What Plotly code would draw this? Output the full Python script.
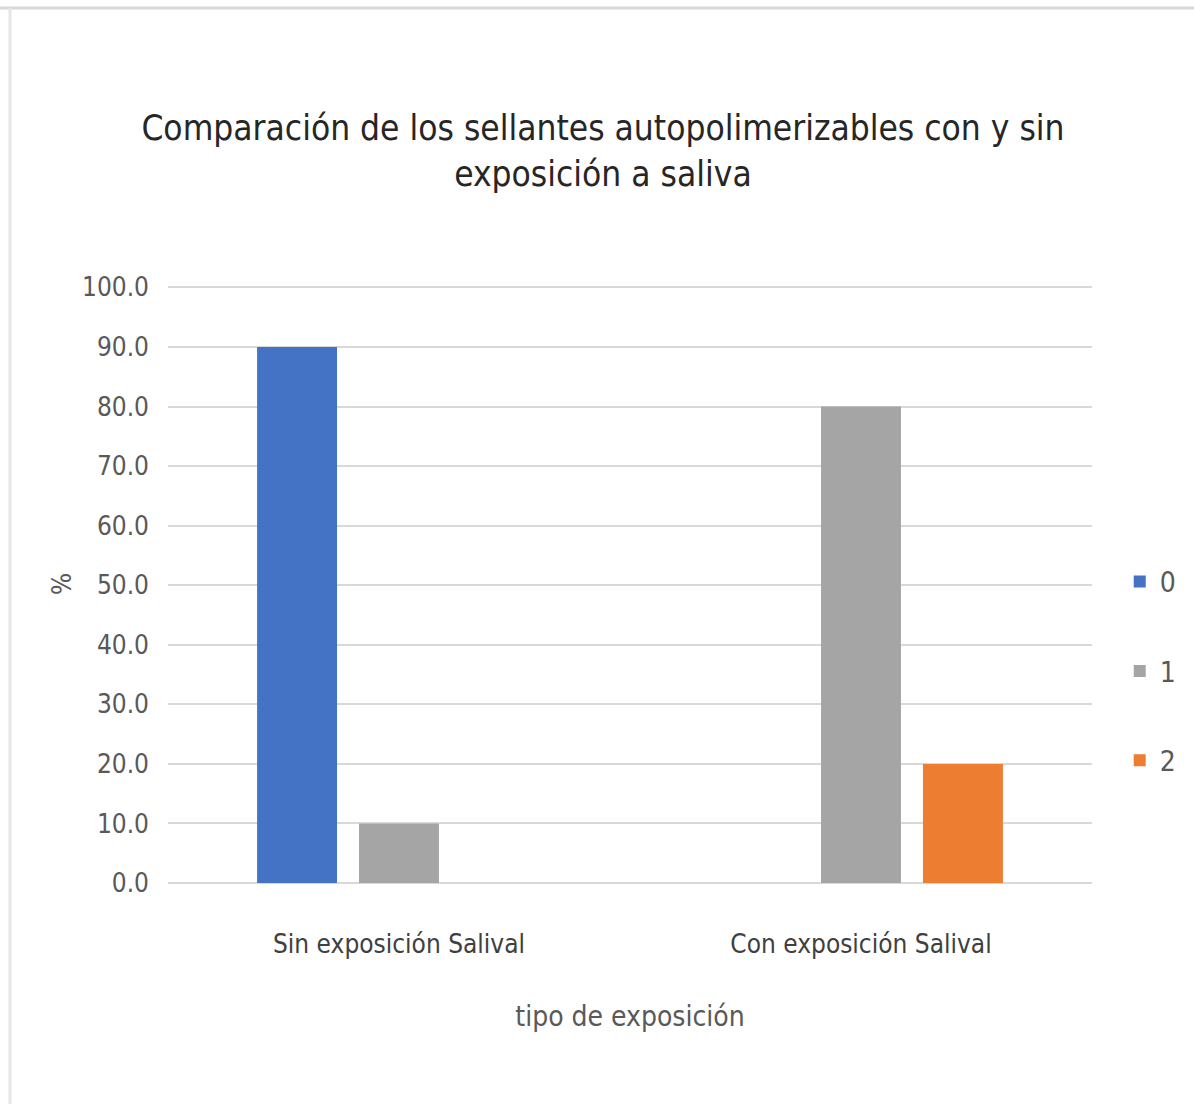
import plotly.graph_objects as go

categories = ["Sin exposición Salival", "Con exposición Salival"]
series_names = ["0", "1", "2"]
values_0 = [90.0, 0.0]
values_1 = [10.0, 80.0]
values_2 = [0.0, 20.0]
tick_vals = [0, 10, 20, 30, 40, 50, 60, 70, 80, 90, 100]

colors = ["#4472C4", "#A5A5A5", "#ED7D31"]
FONT = "DejaVu Sans Condensed, Liberation Sans Narrow, sans-serif"

fig = go.Figure()
for name, vals, col in zip(series_names, [values_0, values_1, values_2], colors):
    fig.add_trace(go.Bar(
        x=categories, y=vals, name=name, legendgroup=name,
        marker=dict(color=col, line=dict(width=0)),
    ))

T, B, L, R = 285, 221, 168, 102
PH = 1104 - T - B
PW = 1194 - L - R

fig.update_layout(
    width=1194, height=1104,
    paper_bgcolor="white", plot_bgcolor="white",
    margin=dict(l=L, r=R, t=T, b=B, autoexpand=False),
    barmode="group", bargap=0.338, bargroupgap=0.216,
    font=dict(family=FONT, color="#595959", size=26),
    title=dict(
        text="Comparación de los sellantes autopolimerizables con y sin<br>exposición a saliva",
        x=0.505, xanchor="center", y=1 - 140 / 1104, yanchor="middle",
        font=dict(family=FONT, size=35, color="#262626"),
    ),
    legend=dict(
        x=1.03, xanchor="left", y=0.354, yanchor="middle",
        font=dict(size=28, color="#595959"),
        tracegroupgap=50, bgcolor="rgba(0,0,0,0)",
    ),
    xaxis=dict(
        showgrid=False, showline=False, ticks="",
        ticklabelstandoff=43,
        tickfont=dict(size=26, color="#404040"),
        title=dict(text="tipo de exposición", font=dict(size=28, color="#595959"), standoff=48),
    ),
    yaxis=dict(
        range=[0, 100.4], tickvals=tick_vals, tickformat=".1f",
        showgrid=True, gridcolor="#D9D9D9", gridwidth=2,
        zeroline=True, zerolinecolor="#D9D9D9", zerolinewidth=2,
        showline=False, ticks="", ticklabelstandoff=18,
        tickfont=dict(size=26, color="#595959"),
        title=dict(text="%", font=dict(size=26, color="#595959"), standoff=2),
    ),
    shapes=[
        dict(type="line", xref="paper", yref="paper",
             x0=-L / PW, x1=(1194 - L) / PW, y0=1 + (T - 8) / PH, y1=1 + (T - 8) / PH,
             line=dict(color="#D9D9D9", width=3)),
        dict(type="line", xref="paper", yref="paper",
             x0=-(L - 10) / PW, x1=-(L - 10) / PW, y0=1 + (T - 8) / PH, y1=-B / PH,
             line=dict(color="#E6E6E6", width=3)),
    ],
)

fig.write_html("out.html")
